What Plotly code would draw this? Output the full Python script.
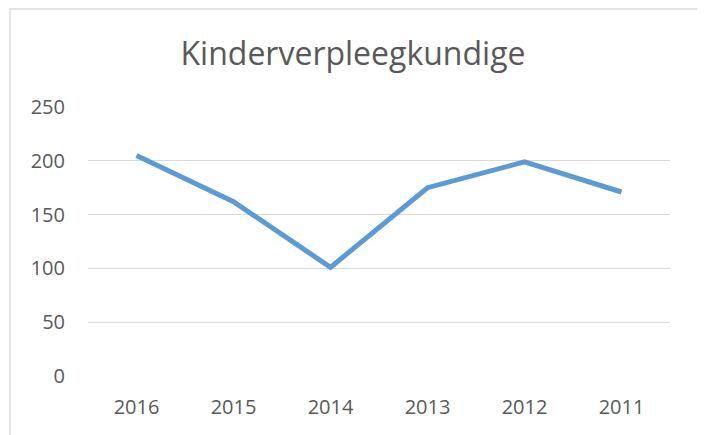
import plotly.graph_objects as go

years = ["2016", "2015", "2014", "2013", "2012", "2011"]
values = [205, 162, 101, 175, 199, 171]
y_ticks = [0, 50, 100, 150, 200, 250]

W, H = 705, 435
OFF = 8  # page body margin
# target plot area in page pixels: x 88..670, y 107..376
L, T = 88 - OFF, 107 - OFF
R, B = W - (670 - OFF), H - (376 - OFF)
pw, ph = W - L - R, H - T - B

fig = go.Figure()
fig.add_trace(go.Scatter(
    x=years, y=values, mode="lines",
    line=dict(color="#5B9BD5", width=5, shape="linear"),
    showlegend=False, hoverinfo="x+y",
))

txt = "#595959"
fig.update_layout(
    width=W, height=H,
    margin=dict(l=L, r=R, t=T, b=B),
    paper_bgcolor="white", plot_bgcolor="white",
    font=dict(family="Open Sans", color=txt, size=20),
    title=dict(text="Kinderverpleegkundige", x=(353 - OFF) / W, xanchor="center",
               xref="container", yref="container", y=1 - (54 - OFF) / H, yanchor="middle",
               font=dict(family="Open Sans", size=32, color=txt)),
    xaxis=dict(type="category", range=[-0.5, 5.5], showgrid=False, zeroline=False,
               showline=False, ticks="", tickfont=dict(size=20, color=txt),
               ticklabelstandoff=17),
    yaxis=dict(range=[0, 250], tickvals=y_ticks, showgrid=True, gridcolor="#D9D9D9",
               gridwidth=1.3, zeroline=False, showline=False, ticks="",
               tickfont=dict(size=20, color=txt), ticklabelstandoff=22),
)

# chart-area border (page pixels converted to paper coords)
def px_x(x):
    return (x - OFF - L) / pw

def px_y(y):
    return (T + ph - (y - OFF)) / ph

fig.add_shape(type="rect", xref="paper", yref="paper",
              x0=px_x(10), x1=px_x(700), y0=px_y(445), y1=px_y(9),
              line=dict(color="#D9D9D9", width=1.3), fillcolor="rgba(0,0,0,0)", layer="below")

fig.write_html("out.html")
